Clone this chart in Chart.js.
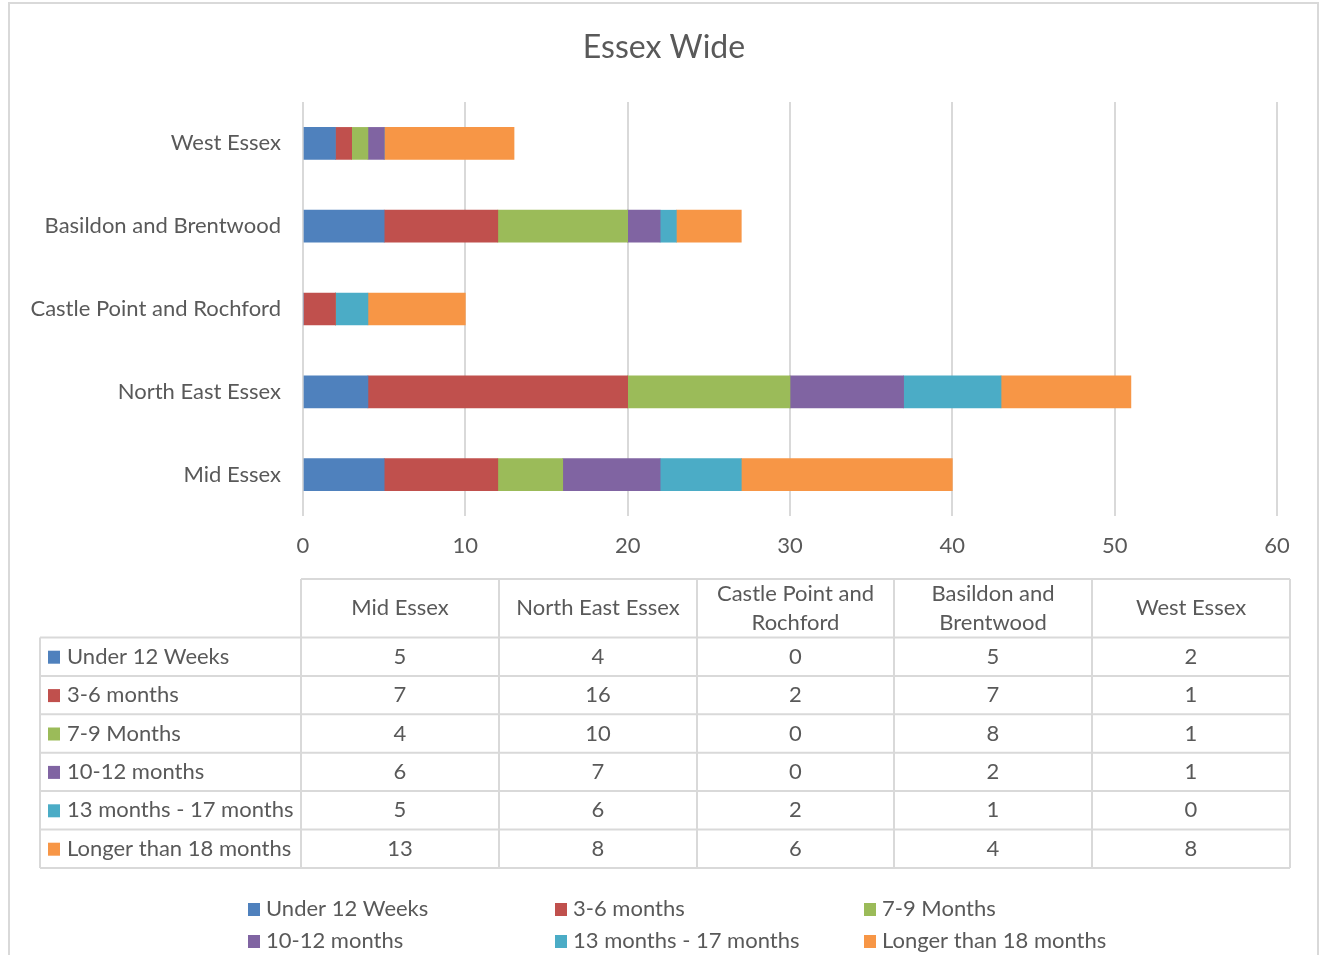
<!DOCTYPE html>
<html>
<head>
<meta charset="utf-8">
<script src="https://cdn.jsdelivr.net/npm/chart.js@4/dist/chart.umd.min.js"></script>
<style>
  html, body { margin: 0; padding: 0; background: #ffffff; }
  #c { display: block; }
</style>
</head>
<body>
<canvas id="c" width="1319" height="955"></canvas>
<script>
// Regions, in the order used by the data table (left to right)
const regions = ['Mid Essex', 'North East Essex', 'Castle Point and Rochford', 'Basildon and Brentwood', 'West Essex'];
const tableHeaders = [['Mid Essex'], ['North East Essex'], ['Castle Point and', 'Rochford'], ['Basildon and', 'Brentwood'], ['West Essex']];

// Waiting-time bands
const seriesNames = ['Under 12 Weeks', '3-6 months', '7-9 Months', '10-12 months', '13 months - 17 months', 'Longer than 18 months'];
const under12Weeks   = [5, 4, 0, 5, 2];
const months3to6     = [7, 16, 2, 7, 1];
const months7to9     = [4, 10, 0, 8, 1];
const months10to12   = [6, 7, 0, 2, 1];
const months13to17   = [5, 6, 2, 1, 0];
const longer18Months = [13, 8, 6, 4, 8];
const seriesColors = ['#4f81bd', '#c0504d', '#9bbb59', '#8064a2', '#4bacc6', '#f79646'];

const xTicks = [0, 10, 20, 30, 40, 50, 60];

const FONT = 'Lato, "Open Sans", sans-serif';
const TEXT = '#595959';
const LINE = '#d9d9d9';
const BODY_SIZE = 22;

const seriesValues = [under12Weeks, months3to6, months7to9, months10to12, months13to17, longer18Months];

const datasets = seriesNames.map((name, i) => ({
  label: name,
  data: seriesValues[i],
  backgroundColor: seriesColors[i],
  borderWidth: 0,
  barThickness: 32,
  stack: 'all'
}));

// Title, frame, data table and legend drawn around the plot
const decorations = {
  id: 'decorations',
  afterDraw(chart) {
    const ctx = chart.ctx;
    ctx.save();

    // outer frame
    ctx.strokeStyle = LINE;
    ctx.lineWidth = 2;
    ctx.strokeRect(9, 3, 1309, 1000);

    // title
    ctx.fillStyle = TEXT;
    ctx.font = '32px ' + FONT;
    ctx.textAlign = 'center';
    ctx.textBaseline = 'middle';
    ctx.fillText('Essex Wide', 664, 48);

    // data table
    const colX = [301, 499, 697, 894, 1092, 1290];
    const labelLeft = 40;
    const headTop = 579, headBottom = 637.5, rowH = 38.4;
    const nRows = seriesNames.length;
    const tableBottom = headBottom + rowH * nRows;

    ctx.strokeStyle = LINE;
    ctx.lineWidth = 2;
    ctx.beginPath();
    ctx.moveTo(colX[0], headTop); ctx.lineTo(colX[5], headTop);
    for (let r = 0; r <= nRows; r++) {
      const y = headBottom + r * rowH;
      ctx.moveTo(labelLeft, y); ctx.lineTo(colX[5], y);
    }
    ctx.moveTo(labelLeft, headBottom); ctx.lineTo(labelLeft, tableBottom);
    for (let c = 0; c < colX.length; c++) {
      ctx.moveTo(colX[c], headTop); ctx.lineTo(colX[c], tableBottom);
    }
    ctx.stroke();

    ctx.font = BODY_SIZE + 'px ' + FONT;
    ctx.fillStyle = TEXT;
    ctx.textAlign = 'center';
    ctx.textBaseline = 'middle';
    tableHeaders.forEach((lines, c) => {
      const cx = (colX[c] + colX[c + 1]) / 2;
      const cy = (headTop + headBottom) / 2;
      const lh = 29;
      lines.forEach((t, k) => {
        ctx.fillText(t, cx, cy + (k - (lines.length - 1) / 2) * lh);
      });
    });

    seriesNames.forEach((name, r) => {
      const cy = headBottom + r * rowH + rowH / 2;
      ctx.fillStyle = seriesColors[r];
      ctx.fillRect(48, cy - 6, 12, 13);
      ctx.fillStyle = TEXT;
      ctx.textAlign = 'left';
      ctx.fillText(name, 67, cy);
      ctx.textAlign = 'center';
      seriesValues[r].forEach((v, c) => {
        ctx.fillText(String(v), (colX[c] + colX[c + 1]) / 2, cy);
      });
    });

    // legend
    const legX = [248, 555, 864];
    const legY = [909, 941];
    seriesNames.forEach((name, i) => {
      const x = legX[i % 3], y = legY[Math.floor(i / 3)];
      ctx.fillStyle = seriesColors[i];
      ctx.fillRect(x, y - 6, 12, 13);
      ctx.fillStyle = TEXT;
      ctx.textAlign = 'left';
      ctx.fillText(name, x + 18, y);
    });

    ctx.restore();
  }
};

new Chart(document.getElementById('c'), {
  type: 'bar',
  data: { labels: regions, datasets },
  options: {
    responsive: false,
    animation: false,
    indexAxis: 'y',
    layout: { padding: { top: 102, left: 0, right: 42, bottom: 389 } },
    plugins: {
      legend: { display: false },
      title: { display: false },
      tooltip: { enabled: false }
    },
    scales: {
      x: {
        stacked: true,
        min: 0,
        max: 60,
        afterBuildTicks(scale) { scale.ticks = xTicks.map(v => ({ value: v })); },
        grid: { color: LINE, lineWidth: 2, drawTicks: false },
        border: { display: false },
        ticks: { color: TEXT, font: { family: FONT, size: BODY_SIZE }, padding: 17 },
        afterFit(scale) { scale.height = 50; }
      },
      y: {
        stacked: true,
        reverse: true,
        grid: { display: false, drawTicks: false },
        border: { display: false },
        ticks: { color: TEXT, font: { family: FONT, size: BODY_SIZE }, padding: 22 },
        afterFit(scale) { scale.width = 303; }
      }
    }
  },
  plugins: [decorations]
});
</script>
</body>
</html>
